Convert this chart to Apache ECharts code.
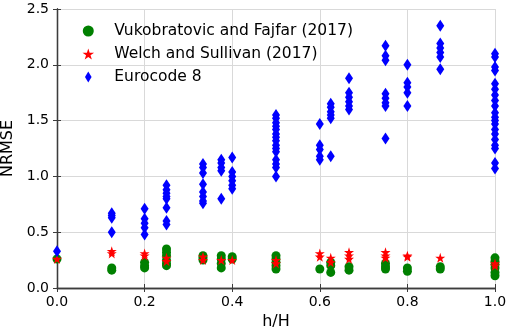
<!DOCTYPE html>
<html>
<head>
<meta charset="utf-8">
<script src="https://cdn.jsdelivr.net/npm/echarts@6/dist/echarts.min.js"></script>
<style>
  html, body { margin: 0; padding: 0; background: #fff; }
  #chart { width: 510px; height: 334px; }
</style>
</head>
<body>
<div id="chart"></div>
<script>
// ---- data ----
const seriesNames = ['Vukobratovic and Fajfar (2017)', 'Welch and Sullivan (2017)', 'Eurocode 8'];
const xValues = [0, 0.125, 0.2, 0.25, 0.3333, 0.375, 0.4, 0.5, 0.6, 0.625, 0.6667, 0.75, 0.8, 0.875, 1.0];
const xTicks = [0, 0.2, 0.4, 0.6, 0.8, 1.0];
const yTicks = [0, 0.5, 1.0, 1.5, 2.0, 2.5];

const vukobratovicY = [
  [0.26],
  [0.18, 0.16],
  [0.23, 0.20, 0.18],
  [0.35, 0.32, 0.29, 0.25, 0.22, 0.20],
  [0.29, 0.27, 0.25],
  [0.29, 0.26, 0.22, 0.18],
  [0.28, 0.26],
  [0.29, 0.26, 0.23, 0.20, 0.17],
  [0.17],
  [0.23, 0.20, 0.14],
  [0.19, 0.16],
  [0.22, 0.19, 0.17],
  [0.18, 0.15],
  [0.19, 0.17],
  [0.27, 0.24, 0.21, 0.18, 0.14, 0.11]
];
const welchY = [
  [0.26],
  [0.33, 0.31],
  [0.31, 0.29],
  [0.27, 0.24],
  [0.28, 0.25],
  [0.25],
  [0.25],
  [0.25, 0.22],
  [0.31, 0.28],
  [0.27, 0.23],
  [0.32, 0.29, 0.26],
  [0.32, 0.29, 0.27],
  [0.29, 0.28],
  [0.27],
  [0.22, 0.20]
];
const eurocodeY = [
  [0.33],
  [0.67, 0.65, 0.63, 0.50],
  [0.71, 0.62, 0.58, 0.54, 0.48],
  [0.92, 0.88, 0.85, 0.82, 0.80, 0.72, 0.60, 0.57],
  [1.11, 1.08, 1.03, 0.93, 0.86, 0.82, 0.78, 0.76],
  [1.15, 1.12, 1.08, 1.05, 0.80],
  [1.17, 1.04, 1.00, 0.96, 0.92, 0.89],
  [1.55, 1.52, 1.48, 1.45, 1.42, 1.38, 1.35, 1.32, 1.28, 1.25, 1.22, 1.15, 1.11, 1.08, 1.00],
  [1.47, 1.28, 1.24, 1.18, 1.15],
  [1.65, 1.62, 1.58, 1.55, 1.52, 1.18],
  [1.88, 1.75, 1.71, 1.67, 1.63, 1.60],
  [2.17, 2.08, 2.04, 1.74, 1.70, 1.66, 1.63, 1.34],
  [2.00, 1.84, 1.80, 1.75, 1.63],
  [2.35, 2.19, 2.15, 2.11, 2.07, 1.96],
  [2.10, 2.07, 1.98, 1.95, 1.83, 1.78, 1.73, 1.68, 1.63, 1.57, 1.53, 1.50, 1.47, 1.42, 1.38, 1.33, 1.28, 1.25, 1.12, 1.07]
];

// ---- build ----
function flatten(groups) {
  const out = [];
  groups.forEach((ys, i) => ys.forEach(y => out.push([xValues[i], y])));
  return out;
}
const FONT = 'DejaVu Sans';
const starPath = 'path://M0,-1 L0.2245,-0.309 L0.951,-0.309 L0.363,0.118 L0.588,0.809 L0,0.382 L-0.588,0.809 L-0.363,0.118 L-0.951,-0.309 L-0.2245,-0.309 Z';
const thinDiamond = 'path://M0,-10 L6,0 L0,10 L-6,0 Z';
const spine = { show: true, lineStyle: { color: '#3c3c3c', width: 1.3 } };
const tickOut = { show: true, inside: false, length: 4, lineStyle: { color: '#3c3c3c', width: 1 } };

const chart = echarts.init(document.getElementById('chart'), null, { renderer: 'canvas' });
chart.setOption({
  animation: false,
  backgroundColor: '#ffffff',
  textStyle: { fontFamily: FONT },
  grid: { left: 57, right: 15, top: 9, bottom: 46, containLabel: false, outerBoundsMode: 'none' },
  legend: {
    orient: 'vertical',
    left: 77.5,
    top: 17,
    itemWidth: 14,
    itemHeight: 11,
    itemGap: 5,
    textStyle: { fontFamily: FONT, fontSize: 15.5, color: '#000', lineHeight: 18, padding: [0, 0, 0, 14] },
    data: [
      { name: seriesNames[0], icon: 'circle' },
      { name: seriesNames[1], icon: starPath },
      { name: seriesNames[2], icon: thinDiamond }
    ]
  },
  xAxis: [
    {
      type: 'value', min: 0, max: 1, interval: 0.2, position: 'bottom',
      name: 'h/H', nameLocation: 'middle', nameGap: 25,
      nameTextStyle: { fontFamily: FONT, fontSize: 16, color: '#000' },
      axisLine: spine, axisTick: tickOut,
      axisLabel: { fontFamily: FONT, fontSize: 14, color: '#000', margin: 7, formatter: v => v.toFixed(1) },
      splitLine: { show: true, lineStyle: { color: '#d9d9d9', width: 1 } }
    },
    {
      type: 'value', min: 0, max: 1, interval: 0.2, position: 'top',
      axisLine: spine, axisTick: tickOut, axisLabel: { show: false }, splitLine: { show: false }
    }
  ],
  yAxis: [
    {
      type: 'value', min: 0, max: 2.5, interval: 0.5, position: 'left',
      name: 'NRMSE', nameLocation: 'middle', nameGap: 35,
      nameTextStyle: { fontFamily: FONT, fontSize: 16, color: '#000' },
      axisLine: spine, axisTick: tickOut,
      axisLabel: { fontFamily: FONT, fontSize: 14, color: '#000', margin: 8, formatter: v => v.toFixed(1) },
      splitLine: { show: true, lineStyle: { color: '#d9d9d9', width: 1 } }
    },
    {
      type: 'value', min: 0, max: 2.5, interval: 0.5, position: 'right',
      axisLine: spine, axisTick: tickOut, axisLabel: { show: false }, splitLine: { show: false }
    }
  ],
  series: [
    {
      name: seriesNames[0], type: 'scatter', xAxisIndex: 0, yAxisIndex: 0,
      symbol: 'circle', symbolSize: 9,
      itemStyle: { color: '#008000', opacity: 1 },
      data: flatten(vukobratovicY), z: 2
    },
    {
      name: seriesNames[1], type: 'scatter', xAxisIndex: 0, yAxisIndex: 0,
      symbol: starPath, symbolSize: 10,
      itemStyle: { color: '#ff0000', opacity: 1 },
      data: flatten(welchY), z: 3
    },
    {
      name: seriesNames[2], type: 'scatter', xAxisIndex: 0, yAxisIndex: 0,
      symbol: thinDiamond, symbolSize: [8, 12],
      itemStyle: { color: '#0000ff', opacity: 1 },
      data: flatten(eurocodeY), z: 4
    }
  ]
});
</script>
</body>
</html>
